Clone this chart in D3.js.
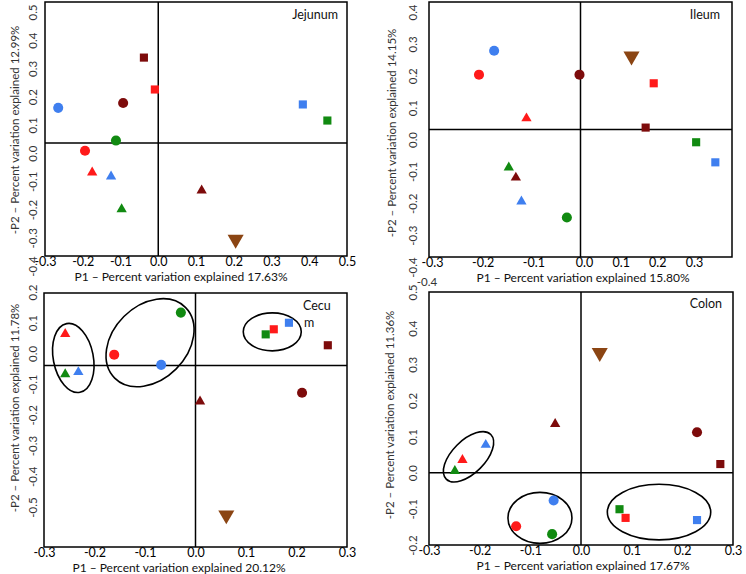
<!DOCTYPE html>
<html><head><meta charset="utf-8">
<script src="https://cdn.jsdelivr.net/npm/d3@7"></script>
<style>body{margin:0;background:#fff}svg{display:block}</style>
</head><body>
<svg id="c" width="746" height="574"></svg>
<script>
// ---------- data ----------
const markerKeys   = ["blueCircle","redCircle","greenCircle","darkredCircle",
                      "blueSquare","redSquare","greenSquare","darkredSquare",
                      "blueTriangle","redTriangle","greenTriangle","darkredTriangle","brownInverted"];
const markerColors = ["#3f7fef","#ff1a1a","#118a11","#7d0b0b",
                      "#3f7fef","#ff1a1a","#118a11","#7d0b0b",
                      "#3f7fef","#ff1a1a","#118a11","#7d0b0b","#8b4513"];
const markerShapes = ["circle","circle","circle","circle",
                      "square","square","square","square",
                      "triangle","triangle","triangle","triangle","inverted"];

const panelNames = ["Jejunum","Ileum","Cecu|m","Colon"];
const xTitles = ["P1 \u2013 Percent variation explained 17.63%","P1 \u2013 Percent variation explained 15.80%",
                 "P1 \u2013 Percent variation explained 20.12%","P1 \u2013 Percent variation explained 17.67%"];
const yTitles = ["-P2 \u2013 Percent variation explained 12.99%","-P2 \u2013 Percent variation explained 14.15%",
                 "-P2 \u2013 Percent variation explained 11.78%","-P2 \u2013 Percent variation explained 11.36%"];
const xDomains = [[-0.3,0.5],[-0.3,0.3],[-0.3,0.3],[-0.3,0.3]];
const yDomains = [[-0.4,0.5],[-0.4,0.4],[-0.5,0.2],[-0.2,0.5]];
const xTickValues = [[-0.3,-0.2,-0.1,0,0.1,0.2,0.3,0.4,0.5],[-0.3,-0.2,-0.1,0,0.1,0.2,0.3],
                     [-0.3,-0.2,-0.1,0,0.1,0.2,0.3],[-0.3,-0.2,-0.1,0,0.1,0.2,0.3]];
const yTickValues = [[-0.4,-0.3,-0.2,-0.1,0,0.1,0.2,0.3,0.4,0.5],[-0.4,-0.3,-0.2,-0.1,0,0.1,0.2,0.3,0.4],
                     [-0.5,-0.4,-0.3,-0.2,-0.1,0,0.1,0.2],[-0.2,-0.1,0,0.1,0.2,0.3,0.4,0.5]];

// P1 / P2 coordinates, same order as markerKeys
const jejunumP1 = [-0.265,-0.194,-0.112,-0.093,  0.383,-0.009, 0.448,-0.038, -0.125,-0.175,-0.097, 0.115,  0.205];
const jejunumP2 = [ 0.125,-0.027, 0.009, 0.142,  0.137, 0.190, 0.080, 0.303, -0.118,-0.104,-0.234,-0.168, -0.341];
const ileumP1   = [-0.171,-0.201,-0.027,-0.002,  0.267, 0.145, 0.229, 0.129, -0.117,-0.107,-0.142,-0.128,  0.101];
const ileumP2   = [ 0.247, 0.172,-0.276, 0.172, -0.103, 0.145,-0.040, 0.006, -0.226, 0.035,-0.119,-0.151,  0.230];
const cecumP1   = [-0.068,-0.161,-0.029, 0.211,  0.185, 0.155, 0.139, 0.262, -0.232,-0.258,-0.258, 0.009,  0.061];
const cecumP2   = [ 0.002, 0.030, 0.146,-0.075,  0.118, 0.100, 0.086, 0.056, -0.018, 0.087,-0.024,-0.099, -0.412];
const colonP1   = [-0.054,-0.128,-0.057, 0.229,  0.229, 0.088, 0.076, 0.275, -0.188,-0.234,-0.249,-0.051,  0.037];
const colonP2   = [-0.077,-0.148,-0.170, 0.112, -0.131,-0.125,-0.101, 0.024,  0.077, 0.035, 0.005, 0.135,  0.332];

// cluster ellipses: panel index, centre (P1, P2)
const ellipsePanel = [2,2,2,3,3,3];
const ellipseP1 = [-0.242,-0.090, 0.152,-0.222,-0.081, 0.154];
const ellipseP2 = [ 0.021, 0.063, 0.093, 0.044,-0.125,-0.109];

// ---------- layout ----------
const frames = [{l:45,r:347,t:2,b:256},{l:429,r:732,t:2,b:257},{l:44,r:347,t:293,b:547},{l:429,r:733,t:292,b:545}];
const ellipseStyle = [{rx:20,ry:35,rot:-11},{rx:50,ry:37,rot:-45},{rx:29,ry:19,rot:0},
                      {rx:31.5,ry:16.4,rot:-45},{rx:32,ry:25.5,rot:0},{rx:51.7,ry:27.8,rot:0}];
const panelLabelPos = [{x:338,y:19,anchor:"end"},{x:720,y:19,anchor:"end"},{x:303,y:310,anchor:"start"},{x:722,y:308,anchor:"end"}];
const yLabelX = [33,413,33,413];
const yTitleX = [15,392,15,390];
const yTitleY = [130,133,408,415];
const xTitleX = [181,583,179,583];
const yLabelShift = [10,10,0,0];

const panelsData = [[jejunumP1,jejunumP2],[ileumP1,ileumP2],[cecumP1,cecumP2],[colonP1,colonP2]];
const FONT = "Lato, 'Open Sans', sans-serif";
const svg = d3.select("#c");

const fmt = d => (Math.abs(d) < 1e-9 ? 0 : d).toFixed(1);

panelsData.forEach((pd, i) => {
  const f = frames[i];
  const x = d3.scaleLinear().domain(xDomains[i]).range([f.l, f.r]);
  const y = d3.scaleLinear().domain(yDomains[i]).range([f.b, f.t]);
  // label scales (the reference's tick labels are slightly displaced)
  let xl = x.copy();
  if (i === 1) xl = d3.scaleLinear().domain([-0.3,0,0.3]).range([432,584,694]);
  let yl = y.copy().range([f.b + yLabelShift[i], f.t + yLabelShift[i]]);
  if (i === 2) yl = d3.scaleLinear().domain([-0.5,0.2]).range([507,292]);

  const g = svg.append("g");

  // frame
  g.append("rect").attr("x", f.l).attr("y", f.t).attr("width", f.r - f.l).attr("height", f.b - f.t)
    .attr("fill", "none").attr("stroke", "#000").attr("stroke-width", 1.5);
  // zero lines
  g.append("line").attr("x1", f.l).attr("x2", f.r).attr("y1", y(0)).attr("y2", y(0))
    .attr("stroke", "#000").attr("stroke-width", 1.5);
  g.append("line").attr("x1", x(0)).attr("x2", x(0)).attr("y1", f.t).attr("y2", f.b)
    .attr("stroke", "#000").attr("stroke-width", 1.5);

  // x tick labels
  const xa = g.append("g").attr("transform", `translate(0,${f.b})`)
    .call(d3.axisBottom(xl).tickValues(xTickValues[i]).tickSize(0).tickPadding(1).tickFormat(fmt));
  xa.select(".domain").remove();
  xa.selectAll("text").attr("font-family", FONT).attr("font-size", 12.5).attr("fill", "#000");

  // y tick labels (rotated)
  const ya = g.append("g").attr("transform", `translate(${yLabelX[i]},0)`)
    .call(d3.axisLeft(yl).tickValues(yTickValues[i]).tickSize(0).tickFormat(fmt));
  ya.select(".domain").remove();
  ya.selectAll("text").attr("x", 0).attr("dy", "0.35em").attr("transform", "rotate(-90)")
    .attr("text-anchor", "middle").attr("font-family", FONT).attr("font-size", 11.5).attr("fill", "#333");

  // axis titles
  g.append("text").attr("x", xTitleX[i]).attr("y", f.b + 24.5).attr("text-anchor", "middle")
    .attr("font-family", FONT).attr("font-size", 12).attr("fill", "#111").text(xTitles[i]);
  g.append("text").attr("transform", `translate(${yTitleX[i]},${yTitleY[i]}) rotate(-90)`)
    .attr("dy", "0.35em").attr("text-anchor", "middle")
    .attr("font-family", FONT).attr("font-size", 11.5).attr("fill", "#333").text(yTitles[i]);

  // panel name
  const lp = panelLabelPos[i];
  const parts = panelNames[i].split("|");
  const nt = g.append("text").attr("x", lp.x).attr("y", lp.y).attr("text-anchor", lp.anchor)
    .attr("font-family", FONT).attr("font-size", 12.5).attr("fill", "#111");
  parts.forEach((p, k) => nt.append("tspan").attr("x", lp.x + (k ? 1 : 0)).attr("dy", k ? 17 : 0).text(p));

  // ellipses
  ellipsePanel.forEach((ep, k) => {
    if (ep !== i) return;
    const s = ellipseStyle[k];
    g.append("ellipse")
      .attr("transform", `translate(${x(ellipseP1[k])},${y(ellipseP2[k])}) rotate(${s.rot})`)
      .attr("rx", s.rx).attr("ry", s.ry).attr("fill", "none").attr("stroke", "#000").attr("stroke-width", 1.6);
  });

  // points
  const pts = markerKeys.map((k, j) => ({k, c: markerColors[j], s: markerShapes[j], px: pd[0][j], py: pd[1][j]}));
  g.selectAll("path.pt").data(pts).join("path").attr("class", "pt")
    .attr("transform", d => `translate(${x(d.px)},${y(d.py)})` + (d.s === "inverted" ? " rotate(180)" : ""))
    .attr("d", d => {
      if (d.s === "circle") return d3.symbol(d3.symbolCircle, 80)();
      if (d.s === "square") return d3.symbol(d3.symbolSquare, 66)();
      if (d.s === "triangle") return d3.symbol(d3.symbolTriangle, 46)();
      return d3.symbol(d3.symbolTriangle, 112)();
    })
    .attr("fill", d => d.c);
});

// stray label fragment visible between the Ileum and Colon panels
svg.append("text").attr("x", 427).attr("y", 286).attr("text-anchor", "middle")
  .attr("font-family", FONT).attr("font-size", 11.5).attr("fill", "#333").text("-0.4");
</script>
</body></html>
